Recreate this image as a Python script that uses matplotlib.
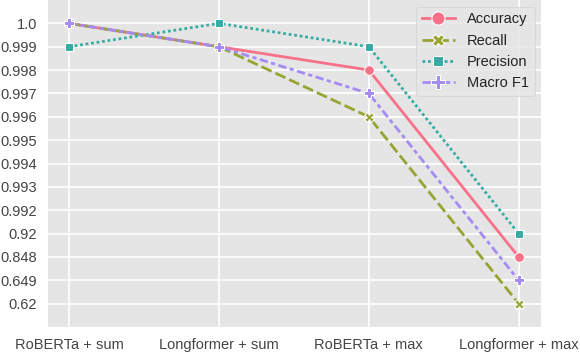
import numpy as np
import matplotlib
matplotlib.use("Agg")
import matplotlib.pyplot as plt
import seaborn as sns

# Data
models = ["RoBERTa + sum", "Longformer + sum", "RoBERTa + max", "Longformer + max"]
y_levels = [0.62, 0.649, 0.848, 0.92, 0.992, 0.993, 0.994, 0.995, 0.996, 0.997, 0.998, 0.999, 1.0]

accuracy = [1.0, 0.999, 0.998, 0.848]
recall = [1.0, 0.999, 0.996, 0.62]
precision = [0.999, 1.0, 0.999, 0.92]
macro_f1 = [1.0, 0.999, 0.997, 0.649]

series = {
    "Accuracy": accuracy,
    "Recall": recall,
    "Precision": precision,
    "Macro F1": macro_f1,
}

plt.style.use("ggplot")
plt.rcParams["font.family"] = ["Liberation Sans", "DejaVu Sans"]
plt.rcParams["font.size"] = 10.5

colors = sns.color_palette("husl", 4)
markers = ["o", "X", "s", "P"]
dashes = [(None, None), (4, 1.5), (1, 1), (3, 1.25, 1.5, 1.25)]
msizes = [7, 6.5, 5.5, 7]

fig = plt.figure(figsize=(5.8, 3.52), dpi=100)
ax = fig.add_axes([0.083, 0.071, 0.85, 0.929])

x = np.arange(len(models))
for i, (name, vals) in enumerate(series.items()):
    ypos = [y_levels.index(v) for v in vals]
    line, = ax.plot(x, ypos, color=colors[i], lw=2, marker=markers[i],
                    markersize=msizes[i], markeredgecolor="white",
                    markeredgewidth=0.75, label=name)
    if dashes[i][0] is not None:
        line.set_dashes(dashes[i])

ax.set_xticks(x)
ax.set_xticklabels(models)
ax.set_yticks(np.arange(len(y_levels)))
ax.set_yticklabels([str(v) for v in y_levels])
ax.set_xlim(-0.14, 3.15)
ax.set_ylim(-1.0, 13.0)
ax.tick_params(axis="both", length=0, pad=8, labelsize=10.5, colors="#444444")
ax.grid(True, color="white", lw=1.2)
for s in ax.spines.values():
    s.set_visible(False)

leg = ax.legend(loc="upper right", markerscale=1.35, fontsize=10.5,
                handlelength=2.3, borderaxespad=0.45)
for t in leg.get_texts():
    t.set_color("#222222")

fig.savefig("out.png", dpi=100)
